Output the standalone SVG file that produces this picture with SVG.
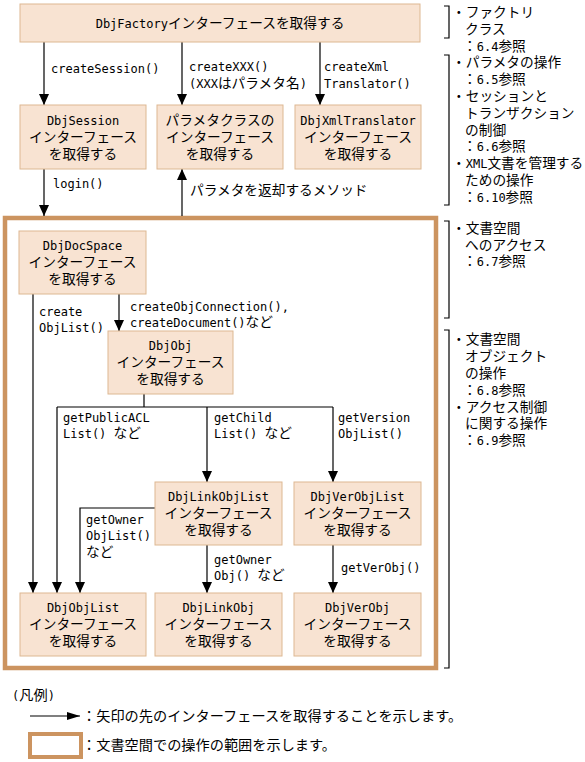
<svg xmlns="http://www.w3.org/2000/svg" width="585" height="762" viewBox="0 0 585 762">
<style>
.bg{fill:#ffffff}
.box{fill:#F8E3D2;stroke:#DDB892;stroke-width:1}
.frame{fill:none;stroke:#CC9460;stroke-width:4.5}
.ln{fill:none;stroke:#000;stroke-width:1.2}
.arr{marker-end:url(#ah)}
.br{fill:none;stroke:#000;stroke-width:1.2}
text{fill:#000}
.t{font-family:"Noto Sans CJK JP",sans-serif;font-size:13.7px}
.m{font-family:"DejaVu Sans Mono","Noto Sans CJK JP",monospace;font-size:12px}
.c{text-anchor:middle}
.lg{font-family:"Noto Sans CJK JP",sans-serif;font-size:14.2px}
</style>
<defs>
<marker id="ah" viewBox="0 0 11 10" markerUnits="userSpaceOnUse" markerWidth="11" markerHeight="10" refX="11" refY="5" orient="auto">
<path d="M0,0 L11,5 L0,10 Z" fill="#000"/>
</marker>
<marker id="ah2" viewBox="0 0 13 8" markerUnits="userSpaceOnUse" markerWidth="13" markerHeight="8" refX="13" refY="4" orient="auto">
<path d="M0,0 L13,4 L0,8 Z" fill="#000"/>
</marker>
</defs>
<rect class="bg" x="0" y="0" width="585" height="762"/>

<g id="scope-frame">
<rect class="frame" x="5" y="218" width="431" height="450"/>
</g>

<g id="connectors">
<line class="ln arr" x1="44" y1="42" x2="44" y2="105"/>
<line class="ln arr" x1="182" y1="42" x2="182" y2="105"/>
<line class="ln arr" x1="320" y1="42" x2="320" y2="105"/>
<line class="ln arr" x1="44" y1="169" x2="44" y2="216"/>
<line class="ln arr" x1="182" y1="216" x2="182" y2="169"/>
<line class="ln arr" x1="33" y1="294" x2="33" y2="593"/>
<line class="ln arr" x1="119" y1="294" x2="119" y2="331"/>
<polyline class="ln" points="144,394 144,407"/>
<polyline class="ln" points="57,407 333,407"/>
<line class="ln arr" x1="57" y1="407" x2="57" y2="593"/>
<line class="ln arr" x1="207" y1="407" x2="207" y2="482"/>
<line class="ln arr" x1="333" y1="407" x2="333" y2="482"/>
<polyline class="ln arr" points="155,508 80,508 80,593"/>
<line class="ln arr" x1="207" y1="545" x2="207" y2="593"/>
<line class="ln arr" x1="333" y1="545" x2="333" y2="593"/>
</g>

<g id="connector-labels">
<text class="m" x="51" y="73">createSession()</text>
<text class="t" x="189" y="71"><tspan class="m">createXXX()</tspan><tspan x="189" y="88"><tspan class="m">(XXX</tspan>はパラメタ名<tspan class="m">)</tspan></tspan></text>
<text class="m" x="324" y="71">createXml<tspan x="324" y="88">Translator()</tspan></text>
<text class="m" x="53" y="188">login()</text>
<text class="t" x="190" y="195">パラメタを返却するメソッド</text>
<text class="m" x="39" y="316">create<tspan x="39" y="332">ObjList()</tspan></text>
<text class="t" x="130" y="311"><tspan class="m">createObjConnection(),</tspan><tspan x="130" y="327"><tspan class="m">createDocument()</tspan>など</tspan></text>
<text class="t" x="63" y="422"><tspan class="m">getPublicACL</tspan><tspan x="63" y="438"><tspan class="m">List() </tspan>など</tspan></text>
<text class="t" x="214" y="422"><tspan class="m">getChild</tspan><tspan x="214" y="438"><tspan class="m">List() </tspan>など</tspan></text>
<text class="m" x="338" y="422">getVersion<tspan x="338" y="438">ObjList()</tspan></text>
<text class="t" x="86" y="524"><tspan class="m">getOwner</tspan><tspan class="m" x="86" y="540">ObjList()</tspan><tspan x="86" y="557">など</tspan></text>
<text class="t" x="214" y="564"><tspan class="m">getOwner</tspan><tspan x="214" y="580"><tspan class="m">Obj() </tspan>など</tspan></text>
<text class="m" x="341" y="572">getVerObj()</text>
</g>

<g id="node-factory">
<rect class="box" x="20" y="4" width="400" height="38"/>
<text class="t c" x="220" y="28"><tspan class="m">DbjFactory</tspan>インターフェースを取得する</text>
</g>
<g id="node-session">
<rect class="box" x="20" y="105" width="126" height="64"/>
<text class="t c" x="83" y="125"><tspan class="m">DbjSession</tspan><tspan x="83" y="142">インターフェース</tspan><tspan x="83" y="159">を取得する</tspan></text>
</g>
<g id="node-param">
<rect class="box" x="157" y="105" width="126" height="64"/>
<text class="t c" x="220" y="125">パラメタクラスの<tspan x="220" y="142">インターフェース</tspan><tspan x="220" y="159">を取得する</tspan></text>
</g>
<g id="node-xmltranslator">
<rect class="box" x="295" y="105" width="126" height="64"/>
<text class="t c" x="358" y="125"><tspan class="m">DbjXmlTranslator</tspan><tspan x="358" y="142">インターフェース</tspan><tspan x="358" y="159">を取得する</tspan></text>
</g>
<g id="node-docspace">
<rect class="box" x="19" y="231" width="127" height="63"/>
<text class="t c" x="82.5" y="250"><tspan class="m">DbjDocSpace</tspan><tspan x="82.5" y="267">インターフェース</tspan><tspan x="82.5" y="284">を取得する</tspan></text>
</g>
<g id="node-obj">
<rect class="box" x="108" y="331" width="125" height="63"/>
<text class="t c" x="170.5" y="350"><tspan class="m">DbjObj</tspan><tspan x="170.5" y="367">インターフェース</tspan><tspan x="170.5" y="384">を取得する</tspan></text>
</g>
<g id="node-linkobjlist">
<rect class="box" x="155" y="482" width="127" height="63"/>
<text class="t c" x="218.5" y="501"><tspan class="m">DbjLinkObjList</tspan><tspan x="218.5" y="518">インターフェース</tspan><tspan x="218.5" y="535">を取得する</tspan></text>
</g>
<g id="node-verobjlist">
<rect class="box" x="294" y="482" width="127" height="63"/>
<text class="t c" x="357.5" y="501"><tspan class="m">DbjVerObjList</tspan><tspan x="357.5" y="518">インターフェース</tspan><tspan x="357.5" y="535">を取得する</tspan></text>
</g>
<g id="node-objlist">
<rect class="box" x="20" y="593" width="126" height="63"/>
<text class="t c" x="83" y="612"><tspan class="m">DbjObjList</tspan><tspan x="83" y="629">インターフェース</tspan><tspan x="83" y="646">を取得する</tspan></text>
</g>
<g id="node-linkobj">
<rect class="box" x="155" y="593" width="127" height="63"/>
<text class="t c" x="218.5" y="612"><tspan class="m">DbjLinkObj</tspan><tspan x="218.5" y="629">インターフェース</tspan><tspan x="218.5" y="646">を取得する</tspan></text>
</g>
<g id="node-verobj">
<rect class="box" x="294" y="593" width="127" height="63"/>
<text class="t c" x="357.5" y="612"><tspan class="m">DbjVerObj</tspan><tspan x="357.5" y="629">インターフェース</tspan><tspan x="357.5" y="646">を取得する</tspan></text>
</g>

<g id="annotations">
<polyline class="br" points="444,6 449,6 449,38 444,38"/>
<polyline class="br" points="444,55 449,55 449,205 444,205"/>
<polyline class="br" points="444,221 449,221 449,318 444,318"/>
<polyline class="br" points="444,330 449,330 449,668 444,668"/>
<text class="t" x="452" y="17">・ファクトリ<tspan x="465" y="34">クラス</tspan><tspan x="463" y="51">：<tspan class="m">6.4</tspan>参照</tspan></text>
<text class="t" x="452" y="67">・パラメタの操作<tspan x="463" y="84">：<tspan class="m">6.5</tspan>参照</tspan><tspan x="452" y="101">・セッションと</tspan><tspan x="465" y="118">トランザクション</tspan><tspan x="465" y="135">の制御</tspan><tspan x="463" y="151">：<tspan class="m">6.6</tspan>参照</tspan><tspan x="452" y="168">・<tspan class="m">XML</tspan>文書を管理する</tspan><tspan x="465" y="185">ための操作</tspan><tspan x="463" y="202">：<tspan class="m">6.10</tspan>参照</tspan></text>
<text class="t" x="452" y="233">・文書空間<tspan x="465" y="250">へのアクセス</tspan><tspan x="463" y="266">：<tspan class="m">6.7</tspan>参照</tspan></text>
<text class="t" x="452" y="344">・文書空間<tspan x="465" y="361">オブジェクト</tspan><tspan x="465" y="378">の操作</tspan><tspan x="463" y="395">：<tspan class="m">6.8</tspan>参照</tspan><tspan x="452" y="412">・アクセス制御</tspan><tspan x="465" y="428">に関する操作</tspan><tspan x="463" y="445">：<tspan class="m">6.9</tspan>参照</tspan></text>
</g>

<g id="legend">
<text class="lg" x="12" y="700"><tspan class="m">(</tspan>凡例<tspan class="m">)</tspan></text>
<line x1="30" y1="716" x2="80" y2="716" stroke="#000" stroke-width="1.2" marker-end="url(#ah2)"/>
<text class="lg" x="82" y="721">：矢印の先のインターフェースを取得することを示します。</text>
<rect x="30" y="734" width="51" height="23" fill="none" stroke="#CC9460" stroke-width="4"/>
<text class="lg" x="82" y="750">：文書空間での操作の範囲を示します。</text>
</g>
</svg>
